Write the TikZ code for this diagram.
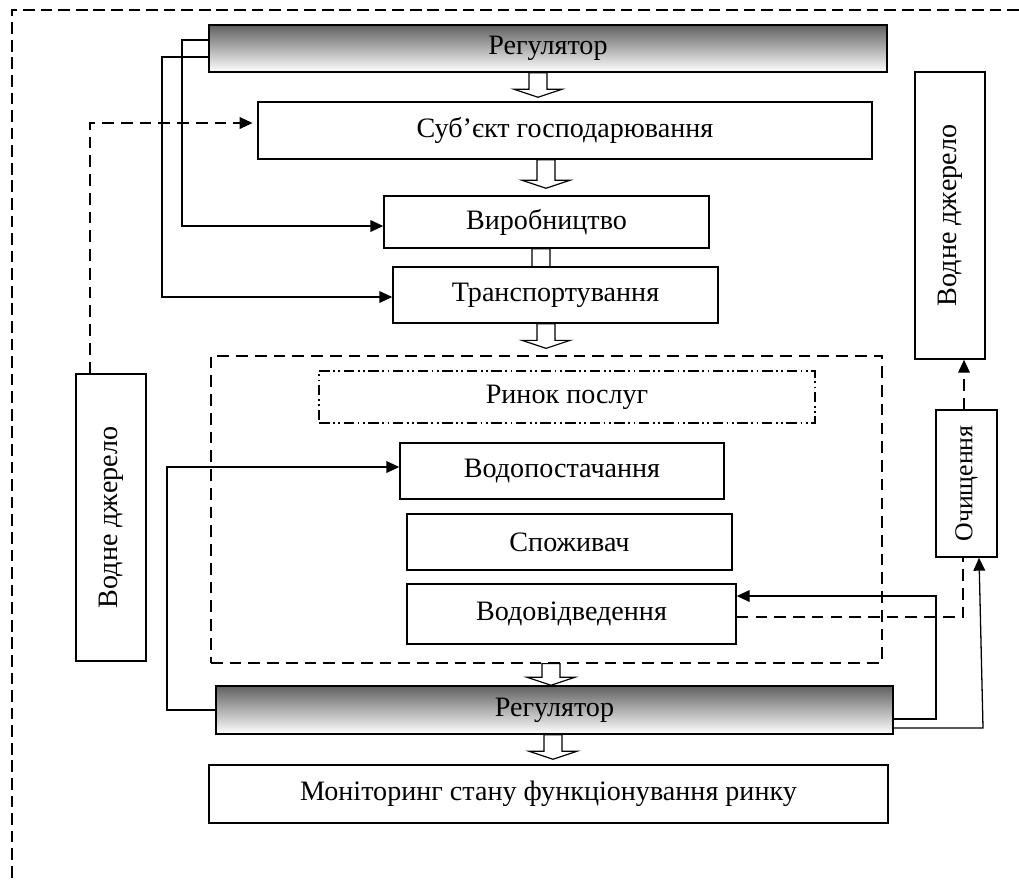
\documentclass[tikz,border=0pt]{standalone}
\usepackage{fontspec}
\setmainfont{Liberation Serif}
\usepackage{tikz}
\usetikzlibrary{positioning,calc,arrows.meta,backgrounds}

\def\px{0.03cm}
\newcommand{\flowarrow}[4][4]{%
  \path (#2,0 |- #3.south) coordinate (fa) (#2,0 |- #4.north) coordinate (fb);
  \draw[blockarrow] ($(fa)+(-9,0)$) -- ($(fa)+(9,0)$) -- ($(fb)+(9,{-(#1)-8})$) -- ($(fb)+(24,{-(#1)-8})$)
    -- ($(fb)+(0,{-(#1)})$) -- ($(fb)+(-24,{-(#1)-8})$) -- ($(fb)+(-9,{-(#1)-8})$) -- cycle;}

\begin{document}
\begin{tikzpicture}[x=\px, y=-\px,
    box/.style={draw, line width=1.3pt, fill=white, inner sep=0pt, font=\fontsize{24}{28}\selectfont},
    regbox/.style={box, top color=black!62, bottom color=white},
    vbox/.style={box, rotate=90},
    conn/.style={line width=1.1pt, -{Triangle[length=11pt,width=10pt]}},
    dconn/.style={conn, dash pattern=on 10pt off 6pt},
    dline/.style={line width=1.1pt, dash pattern=on 10pt off 6pt},
    frame/.style={line width=1pt, dash pattern=on 10pt off 5pt},
    blockarrow/.style={draw, line width=1pt, fill=white, line join=miter}]
        \useasboundingbox (0,0) rectangle (1019,883);

        % Outer frame
        \draw[frame] (1019,10) -- (12,10) -- (12,883);

        % Main chain
        \node[regbox, minimum width=678*\px, minimum height=47*\px] (reg1) at (548,48.5) {Регулятор};
        \node[box, minimum width=614*\px, minimum height=57*\px] (subj) at (565,130.5) {Суб’єкт господарювання};
        \node[box, minimum width=325*\px, minimum height=52*\px] (vyrob) at (546.5,222) {Виробництво};
        \node[box, minimum width=325*\px, minimum height=56*\px] (transp) at (555.5,295) {Транспортування};

        % Market of services
        \node[draw, line width=1.1pt, dash pattern=on 10pt off 6pt, minimum width=671*\px, minimum height=307*\px] (market) at (546.5,509.5) {};
        \node[box, line width=1.1pt, dash pattern=on 9pt off 3pt on 1.5pt off 3pt on 1.5pt off 3pt, minimum width=496*\px, minimum height=52*\px] (rynok) at (567,397) {Ринок послуг};
        \node[box, minimum width=324*\px, minimum height=56*\px] (vodopost) at (562,471) {Водопостачання};
        \node[box, minimum width=325*\px, minimum height=56*\px] (spozh) at (569.5,542) {Споживач};
        \node[box, minimum width=329*\px, minimum height=60*\px] (vodovid) at (571.5,614) {Водовідведення};

        \node[regbox, minimum width=677*\px, minimum height=48*\px] (reg2) at (554.5,710) {Регулятор};
        \node[box, minimum width=679*\px, minimum height=58*\px] (monit) at (548.5,794) {Моніторинг стану функціонування ринку};

        % Water sources and treatment (rotated: east is up, west is down)
        \node[vbox, minimum width=287*\px, minimum height=70*\px] (srcL) at (111,517.5) {Водне джерело};
        \node[vbox, minimum width=287*\px, minimum height=70*\px] (srcR) at (950,215.5) {Водне джерело};
        \node[vbox, font=\fontsize{22}{26}\selectfont, minimum width=147*\px, minimum height=61*\px] (clean) at (966.5,483.5) {Очищення};

        % Block arrows
        \begin{scope}[on background layer]
            \flowarrow{538}{reg1}{subj}
            \flowarrow[7]{546}{subj}{vyrob}
            \flowarrow[-10]{541}{vyrob}{transp}
            \flowarrow[7]{546}{transp}{market}
            \flowarrow[0]{551}{market}{reg2}
            \flowarrow[5]{553}{reg2}{monit}
        \end{scope}

        % Regulator links
        \draw[conn] (reg1.west |- 0,40) -| (182,226) -- (vyrob.west |- 0,226);
        \draw[conn] (reg1.west |- 0,57) -| (162,297) -- (transp.west |- 0,297);
        \draw[conn] (reg2.west) -| (167,467) -- (vodopost.west |- 0,467);
        \draw[conn] (reg2.east |- 0,719) -| (936,596) -- (vodovid.east |- 0,596);
        \draw[conn] (reg2.east |- 0,728) -- (983,728) -- (979,0 |- clean.west);

        % Water flows
        \draw[dconn, shorten >=4pt] (90,0 |- srcL.east) |- (subj.west |- 0,123);
        \draw[dline] (vodovid.east |- 0,617) -| (963,0 |- clean.west);
        \draw[dconn] (964,0 |- clean.east) -- (964,0 |- srcR.west);

    \end{tikzpicture}
\end{document}
